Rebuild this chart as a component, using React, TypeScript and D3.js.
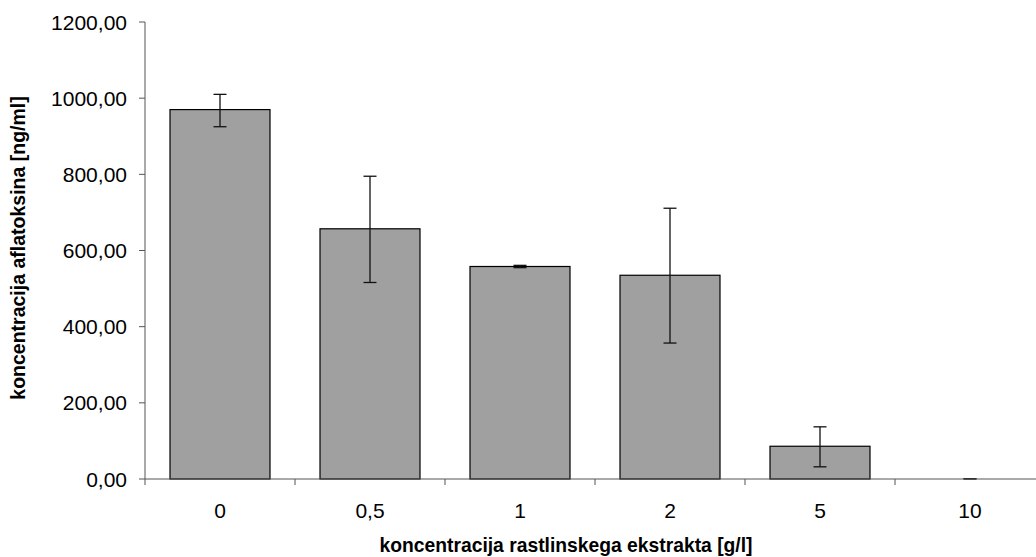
import React from "react";
import * as d3 from "d3";

const categories = ["0", "0,5", "1", "2", "5", "10"];
const values = [970, 657, 558, 535, 86, 0];
const errLow = [925, 516, 555, 357, 32, 0];
const errHigh = [1010, 795, 561, 711, 137, 1];
const yTicks = [0, 200, 400, 600, 800, 1000, 1200];

const W = 1036, H = 557;
const x0 = 145, y0 = 479, yTop = 22;

export default function App() {
  const x = d3.scaleBand<string>().domain(categories).range([x0, x0 + 150 * categories.length]).paddingInner(0).paddingOuter(0);
  const y = d3.scaleLinear().domain([0, 1200]).range([y0, yTop]);
  const bw = 100;
  const fmt = (v: number) => v.toFixed(2).replace(".", ",");
  const font = "Liberation Sans, Arial, sans-serif";
  return (
    <svg width={W} height={H} style={{ position: "absolute", left: 0, top: 0, background: "#fff" }}>
      {categories.map((c, i) => {
        const cx = x(c)! + x.bandwidth() / 2;
        return (
          <g key={c}>
            {values[i] > 0 && (
              <rect x={cx - bw / 2} y={y(values[i])} width={bw} height={y(0) - y(values[i])} fill="#a0a0a0" stroke="#000" strokeWidth={1.2} />
            )}
            <line x1={cx} x2={cx} y1={y(errLow[i])} y2={y(errHigh[i])} stroke="#111" strokeWidth={1.3} />
            <line x1={cx - 6.5} x2={cx + 6.5} y1={y(errLow[i])} y2={y(errLow[i])} stroke="#111" strokeWidth={1.3} />
            <line x1={cx - 6.5} x2={cx + 6.5} y1={y(errHigh[i])} y2={y(errHigh[i])} stroke="#111" strokeWidth={1.3} />
            <text x={cx} y={y0 + 38.5} textAnchor="middle" fontFamily={font} fontSize={21} fill="#000">{c}</text>
          </g>
        );
      })}
      <line x1={x0} x2={x0} y1={yTop} y2={y0} stroke="#555" strokeWidth={1} />
      {yTicks.map((t) => (
        <g key={t}>
          <line x1={x0 - 6} x2={x0} y1={y(t)} y2={y(t)} stroke="#555" strokeWidth={1} />
          <text x={x0 - 18} y={y(t) + 7.5} textAnchor="end" fontFamily={font} fontSize={21} fill="#000">{fmt(t)}</text>
        </g>
      ))}
      <line x1={x0} x2={W} y1={y0} y2={y0} stroke="#555" strokeWidth={1} />
      {categories.map((c) => (
        <line key={"t" + c} x1={x(c)!} x2={x(c)!} y1={y0} y2={y0 + 6} stroke="#555" strokeWidth={1} />
      ))}
      <text x={566} y={552} textAnchor="middle" fontFamily={font} fontSize={19.3} fontWeight="bold" fill="#000">koncentracija rastlinskega ekstrakta [g/l]</text>
      <text transform={`translate(25,${248}) rotate(-90)`} textAnchor="middle" fontFamily={font} fontSize={19.5} fontWeight="bold" fill="#000">koncentracija aflatoksina [ng/ml]</text>
    </svg>
  );
}
